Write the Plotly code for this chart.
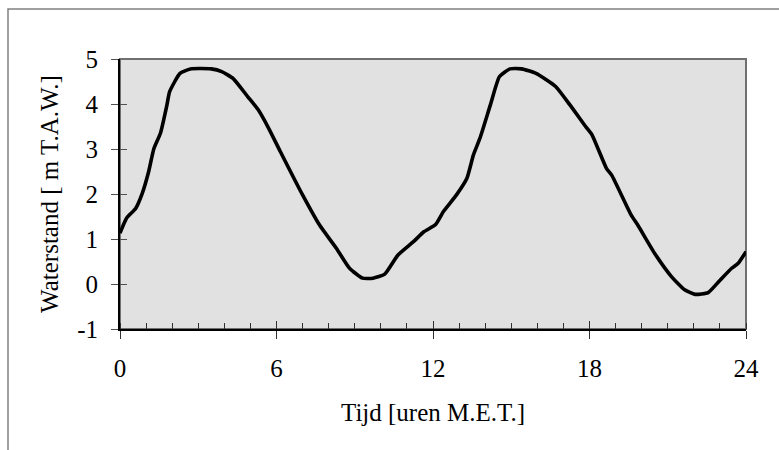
import plotly.graph_objects as go

# Waterstand (m T.A.W.) over een getijdecyclus van 24 uur
tijd_uur = [0, 0.25, 0.6, 0.85, 1.1, 1.3, 1.55, 1.8, 1.9, 2.3,
            2.7, 3.5, 3.9, 4.35, 4.9, 5.3, 5.7, 6.15, 7.0, 7.65,
            8.3, 8.8, 9.3, 9.7, 10.15, 10.65, 11.25, 11.65, 12.1, 12.4,
            12.9, 13.3, 13.55, 13.8, 14.2, 14.55, 14.95, 15.4, 15.95, 16.7,
            17.25, 17.85, 18.1, 18.65, 18.85, 19.6, 19.85, 20.5, 21.15, 21.65,
            22.05, 22.55, 22.95, 23.45, 23.7, 24.0]
waterstand = [1.13, 1.46, 1.68, 2.01, 2.50, 3.01, 3.35, 3.98, 4.27, 4.68,
              4.78, 4.78, 4.72, 4.56, 4.16, 3.87, 3.46, 2.94, 1.98, 1.31,
              0.79, 0.35, 0.13, 0.13, 0.22, 0.64, 0.94, 1.16, 1.32, 1.61,
              1.98, 2.35, 2.87, 3.24, 3.98, 4.61, 4.78, 4.78, 4.68, 4.39,
              3.98, 3.50, 3.31, 2.57, 2.42, 1.53, 1.31, 0.68, 0.16, -0.13,
              -0.23, -0.19, 0.05, 0.35, 0.46, 0.72]

x_ticks = [0, 6, 12, 18, 24]
x_labels = ["0", "6", "12", "18", "24"]
y_ticks = [-1, 0, 1, 2, 3, 4, 5]
y_labels = ["-1", "0", "1", "2", "3", "4", "5"]
x_range = [0, 24]
y_range = [-1, 5]

W, H = 779, 450
L, R, T, B = 120, 33, 59, 121
pw, ph = W - L - R, H - T - B

font = dict(family="Liberation Serif, Times New Roman, serif", size=25, color="black")

fig = go.Figure()
fig.add_trace(go.Scatter(x=tijd_uur, y=waterstand, mode="lines",
                         line=dict(color="black", width=3.6, shape="spline", smoothing=0.5),
                         showlegend=False, hoverinfo="skip"))
# invisible trace so the overlay axes get drawn
fig.add_trace(go.Scatter(x=[None], y=[None], xaxis="x2", yaxis="y2",
                         showlegend=False, hoverinfo="skip"))


def px_to_paper_x(px):
    return (px - L) / pw


def px_to_paper_y(py):
    return (H - B - py) / ph


fig.update_layout(
    width=W, height=H,
    margin=dict(l=L, r=R, t=T, b=B, autoexpand=False),
    paper_bgcolor="white",
    plot_bgcolor="#e1e1e1",
    font=font,
    xaxis=dict(range=x_range, tickvals=x_ticks, ticktext=x_labels,
               showgrid=False, zeroline=False,
               showline=True, linecolor="black", linewidth=2,
               ticks="outside", ticklen=8, tickwidth=1.3, tickcolor="#303030",
               ticklabelstandoff=8,
               minor=dict(ticks="inside", dtick=1, ticklen=6, tickwidth=1.3,
                          tickcolor="#303030", showgrid=False),
               title=dict(text="Tijd [uren M.E.T.]", font=font, standoff=22),
               automargin=False),
    xaxis2=dict(range=x_range, tickvals=x_ticks, overlaying="x", anchor="y",
                showgrid=False, zeroline=False, showline=False,
                ticks="inside", ticklen=8, tickwidth=1.3, tickcolor="#303030",
                showticklabels=False),
    yaxis=dict(range=y_range, tickvals=y_ticks, ticktext=y_labels,
               showgrid=False, zeroline=False,
               showline=True, linecolor="black", linewidth=2,
               ticks="outside", ticklen=7, tickwidth=1.3, tickcolor="#505050",
               ticklabelstandoff=8,
               title=dict(text="Waterstand [ m T.A.W.]", font=font, standoff=11),
               automargin=False),
    yaxis2=dict(range=y_range, tickvals=y_ticks, overlaying="y", anchor="x",
                showgrid=False, zeroline=False, showline=False,
                ticks="inside", ticklen=7, tickwidth=1.3, tickcolor="#505050",
                showticklabels=False),
    shapes=[
        # top and right border of the plot area
        dict(type="rect", xref="paper", yref="paper", x0=0, x1=1, y0=0, y1=1,
             line=dict(color="#707070", width=2), layer="below"),
        # outer chart frame
        dict(type="rect", xref="paper", yref="paper",
             x0=px_to_paper_x(8), x1=px_to_paper_x(800),
             y0=px_to_paper_y(470), y1=px_to_paper_y(9),
             line=dict(color="#808080", width=1.5), layer="below"),
    ],
)

fig.write_html("out.html")
